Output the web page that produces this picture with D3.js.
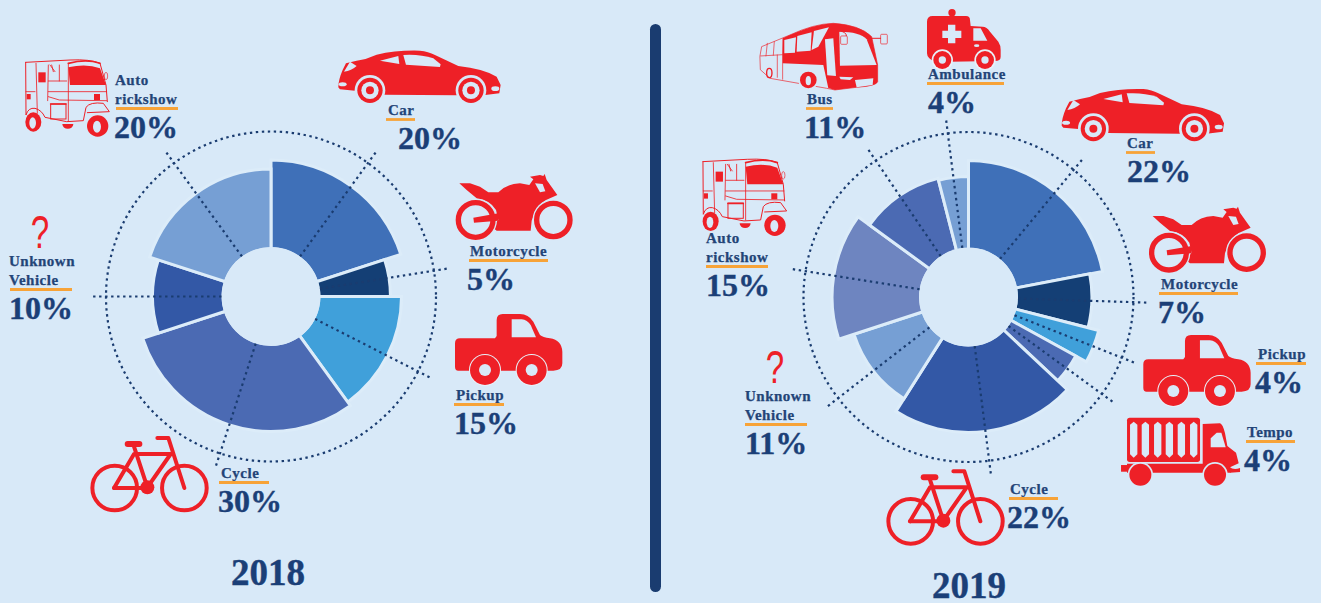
<!DOCTYPE html>
<html>
<head>
<meta charset="utf-8">
<script src="https://cdn.jsdelivr.net/npm/d3@7"></script>
<style>
  html, body { margin: 0; background: #d8e9f8; overflow: hidden; }
  text { font-family: "Liberation Serif", serif; font-weight: bold; fill: #1b3f77; }
  .name { font-size: 15px; letter-spacing: .5px; fill: #234477; stroke: #234477; stroke-width: .25px; }
  .pct { font-size: 32px; stroke: #1b3f77; stroke-width: .4px; }
  .year { font-size: 37px; text-anchor: middle; stroke: #1b3f77; stroke-width: .4px; }
  .ask { font-family: "Liberation Sans", sans-serif; font-weight: normal; font-size: 46px; fill: #ee2027; text-anchor: middle; }
</style>
</head>
<body>
<script>
// values
var categories2018 = ['Car', 'Motorcycle', 'Pickup', 'Cycle', 'Unknown Vehicle', 'Auto rickshow'];
var shares2018 = [20, 5, 15, 30, 10, 20];
var reach2018 = [82.7, 72.4, 79.1, 81.8, 71.8, 77.3]; // slice length, % of the dotted ring

var categories2019 = ['Car', 'Motorcycle', 'Pickup', 'Tempo', 'Cycle', 'Unknown Vehicle', 'Auto rickshow', 'Bus', 'Ambulance'];
var shares2019 = [22, 7, 4, 4, 22, 11, 15, 11, 4];
var reach2019 = [82.7, 74.8, 81.5, 74.2, 82.1, 73, 82.7, 74.2, 73];

var colors2018 = ['#3f70b8', '#143f75', '#40a0da', '#4b6ab3', '#3358a6', '#769fd4'];
var colors2019 = ['#3f70b8', '#143f75', '#40a0da', '#4b6ab3', '#3358a6', '#769fd4', '#6e85c0', '#4b6ab3', '#769fd4'];

var bg = '#d8e9f8', red = '#ee2027', navy = '#1a3c70', orange = '#f7a338';

var svg = d3.select('body').append('svg')
  .attr('width', 1321)
  .attr('height', 603)
  .style('display', 'block');

svg.append('rect')
  .attr('x', 650).attr('y', 24)
  .attr('width', 11).attr('height', 568)
  .attr('rx', 5.5)
  .attr('fill', navy);

var radius = d3.scaleLinear().domain([0, 100]).range([0, 165]);

function drawRose(cx, cy, cats, shares, reach, colors) {
  var g = svg.append('g').attr('transform', 'translate(' + cx + ',' + cy + ')');
  var pie = d3.pie().sort(null).value(function(d) { return d; });
  var slices = pie(shares);
  var arc = d3.arc()
    .innerRadius(radius(29))
    .outerRadius(function(d) { return radius(reach[d.index]); });

  g.selectAll('path.slice').data(slices)
    .enter()
    .append('path')
    .attr('class', 'slice')
    .attr('d', arc)
    .attr('fill', function(d) { return colors[d.index]; })
    .attr('stroke', '#dcecf9')
    .attr('stroke-width', 3);

  // hole covers the stroke of the inner edges
  g.append('circle').attr('r', radius(30)).attr('fill', bg);

  g.append('circle')
    .attr('r', radius(100))
    .attr('fill', 'none')
    .attr('stroke', navy)
    .attr('stroke-width', 2.2)
    .attr('stroke-dasharray', '2.4 3.6');

  g.selectAll('line.lead').data(slices)
    .enter()
    .append('line')
    .attr('class', 'lead')
    .attr('x1', function(d) { return radius(30) * Math.sin((d.startAngle + d.endAngle) / 2); })
    .attr('y1', function(d) { return -radius(30) * Math.cos((d.startAngle + d.endAngle) / 2); })
    .attr('x2', function(d) { return radius(109) * Math.sin((d.startAngle + d.endAngle) / 2); })
    .attr('y2', function(d) { return -radius(109) * Math.cos((d.startAngle + d.endAngle) / 2); })
    .attr('stroke', navy)
    .attr('stroke-width', 2.2)
    .attr('stroke-dasharray', '2.4 3.6');
}

drawRose(271, 296.5, categories2018, shares2018, reach2018, colors2018);
drawRose(968.5, 297, categories2019, shares2019, reach2019, colors2019);

// icon parts are in 3x crop pixels, scaled down on drawing
function part(g, tag, attrs) {
  var el = g.append(tag);
  Object.keys(attrs).forEach(function(k) { el.attr(k, attrs[k]); });
  return el;
}
function fillPath(g, d, c) { return part(g, 'path', { d: d, fill: c || red }); }
function linePath(g, d, w) { return part(g, 'path', { d: d, fill: 'none', stroke: red, 'stroke-width': w || 4, 'stroke-linecap': 'round', 'stroke-linejoin': 'round' }); }
function disc(g, x, y, r, c) { return part(g, 'circle', { cx: x, cy: y, r: r, fill: c || red }); }

var icons = {
  car: { ox: 55, oy: 62, draw: function(g) {
    fillPath(g, 'M55,172 Q55,150 68,120 L78,100 L110,92 Q140,88 170,74 Q230,60 300,62 Q325,64 345,75 L415,108 Q490,116 530,140 L542,165 L538,190 L490,196 L410,196 L195,194 L105,182 L60,178 Z');
    fillPath(g, 'M180,92 L235,78 L238,102 Z', bg);
    fillPath(g, 'M250,75 Q300,72 340,85 L362,103 L360,111 L258,104 Z', bg);
    fillPath(g, 'M72,125 L90,95 L110,108 Q95,122 72,125 Z', bg);
    part(g, 'ellipse', { cx: 68, cy: 163, rx: 12, ry: 6, fill: bg });
    part(g, 'ellipse', { cx: 526, cy: 176, rx: 12, ry: 7, fill: bg });
    [150, 453].forEach(function(x) {
      disc(g, x, 181, 46, bg);
      disc(g, x, 181, 38);
      disc(g, x, 181, 26, bg);
      disc(g, x, 181, 12);
    });
  } },
  motorcycle: { ox: 405, oy: 430, draw: function(g) {
    fillPath(g, 'M418,460 L450,460 L480,470 L505,487 L535,487 Q560,462 600,460 L628,465 L640,448 L630,440 L660,435 L670,438 L674,432 L680,450 L712,495 L690,505 Q660,515 645,545 L635,572 L632,602 L530,602 L515,590 L535,570 L528,540 Q510,510 470,505 L440,480 Z');
    fillPath(g, 'M645,460 L668,462 L676,484 L660,487 Z', bg);
    part(g, 'circle', { cx: 467, cy: 570, r: 52, fill: 'none', stroke: bg, 'stroke-width': 24 });
    part(g, 'circle', { cx: 467, cy: 570, r: 52, fill: 'none', stroke: red, 'stroke-width': 16 });
    part(g, 'circle', { cx: 700, cy: 570, r: 50, fill: 'none', stroke: bg, 'stroke-width': 24 });
    part(g, 'circle', { cx: 700, cy: 570, r: 50, fill: 'none', stroke: red, 'stroke-width': 16 });
    fillPath(g, 'M460,563 L535,550 L535,572 L462,578 Z');
  } },
  pickup: { ox: 405, oy: 852, draw: function(g) {
    fillPath(g, 'M405,940 Q405,925 420,925 L525,925 L530,918 L530,870 Q530,852 548,852 L600,852 Q625,852 640,875 L660,915 Q668,922 690,925 Q725,930 727,965 L727,1000 Q727,1022 700,1022 L415,1022 Q405,1022 405,1010 Z');
    fillPath(g, 'M575,868 L605,868 Q622,870 632,885 L648,922 L575,922 Z', bg);
    [495, 635].forEach(function(x) {
      disc(g, x, 1020, 48, '#e8f1f9');
      disc(g, x, 1020, 45);
      disc(g, x, 1020, 18, bg);
    });
  } },
  cycle: { ox: 92, oy: 168, draw: function(g) {
    [164, 373].forEach(function(x) {
      part(g, 'circle', { cx: x, cy: 324, r: 67, fill: 'none', stroke: red, 'stroke-width': 12 });
    });
    linePath(g, 'M162,324 L222,222 L332,222 L262,322 L222,200', 12);
    linePath(g, 'M162,324 L262,324', 12);
    linePath(g, 'M292,174 L325,174 L373,324', 12);
    linePath(g, 'M203,192 L238,192', 18);
    disc(g, 262, 322, 21);
  } },
  ambulance: { ox: 711, oy: 27, draw: function(g) {
    disc(g, 786, 38, 11);
    fillPath(g, 'M711,65 Q711,48 728,48 L828,48 Q840,48 840,60 L842,78 L878,80 Q890,80 900,95 L925,125 Q932,135 932,150 L932,170 Q932,183 915,183 L735,186 Q711,175 711,160 Z');
    fillPath(g, 'M850,85 L872,85 L892,122 L850,122 Z', bg);
    fillPath(g, 'M774,74 L796,74 L796,92 L814,92 L814,114 L796,114 L796,130 L774,130 L774,114 L757,114 L757,92 L774,92 Z', bg);
    part(g, 'ellipse', { cx: 860, cy: 137, rx: 8, ry: 4, fill: bg });
    [757, 885].forEach(function(x) {
      disc(g, x, 180, 32, '#e8f1f9');
      disc(g, x, 180, 27);
      disc(g, x, 180, 11, bg);
    });
  } },
  tempo: { ox: 362, oy: 1013, draw: function(g) {
    part(g, 'rect', { x: 381, y: 1013, width: 219, height: 133, rx: 8, fill: red });
    [401, 436, 473, 508, 544, 581].forEach(function(x) {
      fillPath(g, 'M' + (x - 11) + ',1034 L' + x + ',1025 L' + (x + 11) + ',1034 L' + (x + 11) + ',1123 L' + x + ',1133 L' + (x - 11) + ',1123 Z', bg);
    });
    fillPath(g, 'M608,1032 L660,1030 Q668,1032 675,1060 L682,1098 L708,1118 L716,1150 L690,1162 L692,1178 L381,1178 L381,1151 L608,1151 Z');
    fillPath(g, 'M632,1102 L632,1075 L650,1058 L664,1058 L677,1102 Z', bg);
    fillPath(g, 'M688,1160 Q700,1172 720,1164 L720,1176 L690,1178 Z');
    part(g, 'rect', { x: 363, y: 1155, width: 22, height: 20, fill: red });
    disc(g, 421, 1184, 38, bg);
    disc(g, 421, 1184, 33);
    disc(g, 645, 1184, 38, bg);
    disc(g, 645, 1184, 33);
  } },
  bus: { ox: 208, oy: 70, draw: function(g) {
    linePath(g, 'M210,168 L215,140 L300,105 Q370,72 430,70 Q510,75 545,110 L563,195 L563,245 Q560,258 500,262 L435,270 L410,265 L240,235 L212,210 Z', 2);
    fillPath(g, 'M278,115 Q370,72 430,70 Q510,75 545,110 L563,195 L563,245 Q560,258 500,262 L435,270 L415,264 L400,195 L278,190 Z');
    fillPath(g, 'M283,120 L318,112 L315,158 L283,160 Z', bg);
    fillPath(g, 'M322,108 L365,97 L362,152 L320,155 Z', bg);
    fillPath(g, 'M372,93 L417,82 L385,140 L365,150 Z', bg);
    fillPath(g, 'M448,95 Q510,95 530,118 L560,195 L450,197 Z', bg);
    fillPath(g, 'M405,118 L430,115 L438,228 L412,226 Z', bg);
    fillPath(g, 'M448,230 L490,232 L480,240 L452,238 Z', bg);
    fillPath(g, 'M495,240 L550,235 L548,255 L500,262 Z', bg);
    linePath(g, 'M232,130 L228,168 M253,125 L250,166 M280,115 L278,162 M212,168 L280,164 M262,165 L262,232 M278,165 L278,238', 2);
    linePath(g, 'M440,92 Q470,92 470,110', 3);
    part(g, 'rect', { x: 452, y: 108, width: 20, height: 25, rx: 3, fill: bg, stroke: red, 'stroke-width': 2 });
    linePath(g, 'M545,115 L572,115', 3);
    part(g, 'rect', { x: 572, y: 103, width: 20, height: 29, rx: 3, fill: 'none', stroke: red, 'stroke-width': 2 });
    disc(g, 355, 240, 30, bg);
    disc(g, 355, 240, 25);
    part(g, 'ellipse', { cx: 355, cy: 242, rx: 8, ry: 14, fill: bg });
    part(g, 'ellipse', { cx: 238, cy: 219, rx: 8, ry: 14, fill: 'none', stroke: red, 'stroke-width': 4 });
  } },
  rickshaw: { ox: 75, oy: 87, draw: function(g) {
    linePath(g, 'M77,97 L210,90 Q270,87 300,100 L318,165 L322,215 M77,97 L78,255 Q85,232 105,235 Q125,240 135,262 L200,275 L250,272 L258,232 Q270,215 310,220 L328,245 L262,248', 3);
    linePath(g, 'M205,100 Q260,85 300,100', 5);
    fillPath(g, 'M205,112 Q260,100 300,115 L318,165 L210,165 Z');
    part(g, 'rect', { x: 115, y: 127, width: 22, height: 30, fill: red });
    part(g, 'rect', { x: 80, y: 192, width: 12, height: 16, fill: red });
    part(g, 'rect', { x: 282, y: 192, width: 18, height: 18, fill: red });
    linePath(g, 'M78,185 L105,185 M145,185 L320,185 M145,153 L200,153 M145,200 L178,210 L320,212 M108,100 L112,250 M145,105 L143,212 M178,105 L178,153 M205,100 L205,272 M150,105 L165,125 M155,105 L160,125', 2.5);
    part(g, 'rect', { x: 152, y: 222, width: 46, height: 45, fill: 'none', stroke: red, 'stroke-width': 3 });
    linePath(g, 'M152,222 L198,222', 5);
    disc(g, 293, 288, 32);
    part(g, 'ellipse', { cx: 291, cy: 290, rx: 12, ry: 18, fill: bg });
    part(g, 'ellipse', { cx: 100, cy: 276, rx: 24, ry: 29, fill: red });
    part(g, 'ellipse', { cx: 98, cy: 279, rx: 10, ry: 17, fill: bg });
    fillPath(g, 'M187,282 L220,282 A16,14 0 0 1 187,282 Z');
    part(g, 'ellipse', { cx: 318, cy: 138, rx: 5, ry: 11, fill: 'none', stroke: red, 'stroke-width': 2 });
  } }
};

function placeIcon(name, x, y) {
  var ic = icons[name];
  var g = svg.append('g')
    .attr('transform', 'translate(' + x + ',' + y + ') scale(' + (1 / 3) + ') translate(' + (-ic.ox) + ',' + (-ic.oy) + ')');
  ic.draw(g);
}

placeIcon('rickshaw', 25, 59);
placeIcon('car', 338.3, 50.7);
placeIcon('motorcycle', 455, 173.3);
placeIcon('pickup', 455, 314);
placeIcon('cycle', 90.7, 436);

placeIcon('bus', 759.3, 23.3);
placeIcon('ambulance', 927, 9);
placeIcon('car', 1061.7, 89);
placeIcon('rickshaw', 702.3, 158.3);
placeIcon('motorcycle', 1148.3, 206);
placeIcon('pickup', 1143.3, 335);
placeIcon('tempo', 1120.7, 417.7);
placeIcon('cycle', 886.7, 469.3);

// where each label sits: name lines, underline, percent
function label(lines, value, x, base, lineX, lineEnd, pctX) {
  lines.forEach(function(t, i) {
    svg.append('text').attr('class', 'name').attr('x', x).attr('y', base + i * 19).text(t);
  });
  var last = base + (lines.length - 1) * 19;
  svg.append('line')
    .attr('x1', lineX).attr('x2', lineEnd)
    .attr('y1', last + 4.5).attr('y2', last + 4.5)
    .attr('stroke', orange)
    .attr('stroke-width', 2.8);
  svg.append('text').attr('class', 'pct').attr('x', pctX).attr('y', last + 34).text(value + '%');
}

function share(cats, vals, name) { return vals[cats.indexOf(name)]; }

label(['Auto', 'rickshow'], share(categories2018, shares2018, 'Auto rickshow'), 115, 85, 116, 178, 114);
label(['Unknown', 'Vehicle'], share(categories2018, shares2018, 'Unknown Vehicle'), 9, 266, 10, 72, 9);
label(['Car'], share(categories2018, shares2018, 'Car'), 388, 115, 386, 415, 398);
label(['Motorcycle'], share(categories2018, shares2018, 'Motorcycle'), 470, 256, 469, 548, 467);
label(['Pickup'], share(categories2018, shares2018, 'Pickup'), 456, 400, 454, 504, 454);
label(['Cycle'], share(categories2018, shares2018, 'Cycle'), 221, 478, 219, 269, 218);

label(['Bus'], share(categories2019, shares2019, 'Bus'), 807, 104, 806, 833, 804);
label(['Ambulance'], share(categories2019, shares2019, 'Ambulance'), 928, 79, 927, 1004, 928);
label(['Car'], share(categories2019, shares2019, 'Car'), 1127, 148, 1126, 1155, 1127);
label(['Motorcycle'], share(categories2019, shares2019, 'Motorcycle'), 1161, 289, 1159, 1238, 1158);
label(['Pickup'], share(categories2019, shares2019, 'Pickup'), 1258, 359, 1256, 1306, 1255);
label(['Tempo'], share(categories2019, shares2019, 'Tempo'), 1247, 437, 1246, 1295, 1244);
label(['Cycle'], share(categories2019, shares2019, 'Cycle'), 1010, 494, 1009, 1058, 1007);
label(['Unknown', 'Vehicle'], share(categories2019, shares2019, 'Unknown Vehicle'), 745, 401, 745, 807, 745);
label(['Auto', 'rickshow'], share(categories2019, shares2019, 'Auto rickshow'), 706, 243, 706, 768, 706);

// narrow question mark, like the thin glyph in the source
[[40, 248], [775, 383]].forEach(function(p) {
  svg.append('text').attr('class', 'ask')
    .attr('transform', 'translate(' + p[0] + ',' + p[1] + ') scale(.72,1)')
    .text('?');
});

svg.append('text').attr('class', 'year').attr('x', 268).attr('y', 585).text('2018');
svg.append('text').attr('class', 'year').attr('x', 969).attr('y', 598).text('2019');
</script>
</body>
</html>
